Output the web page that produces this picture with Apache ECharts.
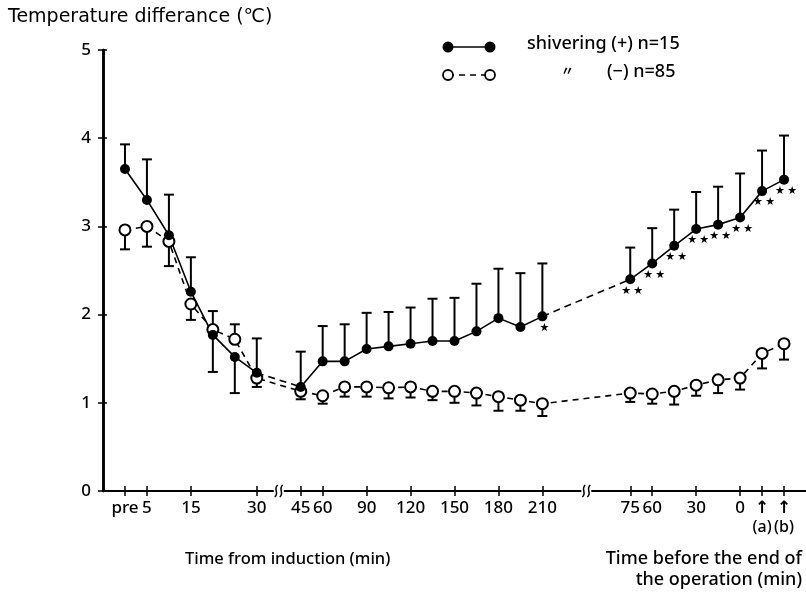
<!DOCTYPE html>
<html>
<head>
<meta charset="utf-8">
<script src="https://cdn.jsdelivr.net/npm/echarts@6/dist/echarts.min.js"></script>
<style>
  html, body { margin: 0; padding: 0; background: #fff; }
  #chart { width: 806px; height: 599px; }
</style>
</head>
<body>
<div id="chart"></div>
<script>
// x positions are "slots": one slot per measurement step, breaks at 7 and 21
const slots = [0, 1, 2, 3, 4, 5, 6, 8, 9, 10, 11, 12, 13, 14, 15, 16, 17, 18, 19, 23, 24, 25, 26, 27, 28, 29, 30];

// shivering (+) n=15 : mean and end of the SD bar
const shiverMean = [3.65, 3.30, 2.90, 2.26, 1.77, 1.52, 1.34, 1.18, 1.47, 1.47, 1.61, 1.64, 1.67, 1.70, 1.70, 1.81, 1.96, 1.86, 1.98, 2.40, 2.58, 2.78, 2.97, 3.02, 3.10, 3.40, 3.53];
const shiverBar = [3.93, 3.76, 3.36, 2.65, 1.35, 1.11, 1.73, 1.58, 1.87, 1.89, 2.02, 2.03, 2.08, 2.18, 2.19, 2.35, 2.52, 2.47, 2.58, 2.76, 2.98, 3.19, 3.39, 3.45, 3.60, 3.86, 4.03];
const shiverSig = ['', '', '', '', '', '', '', '', '', '', '', '', '', '', '', '', '', '', '*', '**', '**', '**', '**', '**', '**', '**', '**'];

// shivering (-) n=85
const noShiverMean = [2.96, 3.00, 2.83, 2.12, 1.83, 1.72, 1.28, 1.13, 1.08, 1.18, 1.18, 1.17, 1.18, 1.13, 1.13, 1.11, 1.07, 1.03, 0.99, 1.11, 1.10, 1.13, 1.20, 1.26, 1.28, 1.56, 1.67];
const noShiverBar = [2.74, 2.77, 2.55, 1.94, 2.04, 1.89, 1.18, 1.04, 0.99, 1.07, 1.07, 1.05, 1.06, 1.03, 1.00, 0.97, 0.91, 0.91, 0.85, 1.01, 0.99, 0.98, 1.08, 1.11, 1.15, 1.39, 1.49];

const tickSlots = [0, 1, 3, 6, 8, 9, 11, 13, 15, 17, 19, 23, 24, 26, 28, 29, 30];
const tickLabels = ['pre', '5', '15', '30', '45', '60', '90', '120', '150', '180', '210', '75', '60', '30', '0', '(a)', '(b)'];
const breakSlots = [7, 21];

const FONT = 'Noto Sans';

function pairs(ys) {
  return slots.map((s, i) => [s, ys[i]]);
}

// solid line with gaps at the breaks, dashed pieces across them
function solidWithGaps(ys) {
  const out = [];
  for (let i = 0; i < slots.length; i++) {
    if (i > 0 && slots[i] - slots[i - 1] > 1) out.push([slots[i - 1] + 1, null]);
    out.push([slots[i], ys[i]]);
  }
  return out;
}
function bridges(ys) {
  const out = [];
  for (let i = 1; i < slots.length; i++) {
    if (slots[i] - slots[i - 1] > 1) out.push([[slots[i - 1], ys[i - 1]], [slots[i], ys[i]]]);
  }
  return out;
}

function errBarItem(params, api) {
  const p0 = api.coord([api.value(0), api.value(1)]);
  const p1 = api.coord([api.value(0), api.value(2)]);
  return {
    type: 'group',
    children: [
      { type: 'line', shape: { x1: p0[0], y1: p0[1], x2: p1[0], y2: p1[1] }, style: { stroke: '#000', lineWidth: 2 } },
      { type: 'line', shape: { x1: p1[0] - 5, y1: p1[1], x2: p1[0] + 5, y2: p1[1] }, style: { stroke: '#000', lineWidth: 2 } }
    ]
  };
}

function breakItem(params, api) {
  const p = api.coord([api.value(0), 0]);
  const x = p[0], y = p[1];
  const kids = [{ type: 'rect', shape: { x: x - 5, y: y - 3, width: 10, height: 6 }, style: { fill: '#fff' } }];
  [-2.5, 2.5].forEach(dx => {
    kids.push({
      type: 'bezierCurve',
      shape: { x1: x + dx + 1.5, y1: y - 6, x2: x + dx - 1.5, y2: y + 6, cpx1: x + dx - 3.5, cpy1: y - 2, cpx2: x + dx + 3.5, cpy2: y + 2 },
      style: { stroke: '#000', lineWidth: 1.5, fill: null }
    });
  });
  return { type: 'group', children: kids };
}

const series = [];
series.push({
  type: 'line', data: solidWithGaps(shiverMean), connectNulls: false, symbol: 'none',
  lineStyle: { color: '#000', width: 1.6 }, z: 2, silent: true
});
bridges(shiverMean).forEach(b => series.push({
  type: 'line', data: b, symbol: 'none', lineStyle: { color: '#000', width: 1.6, type: [7, 5] }, z: 2, silent: true
}));
series.push({
  type: 'line', data: pairs(noShiverMean), symbol: 'none',
  lineStyle: { color: '#000', width: 1.6, type: [6, 5] }, z: 2, silent: true
});
series.push({
  type: 'custom', renderItem: errBarItem, z: 3, silent: true,
  data: slots.map((s, i) => [s, shiverMean[i], shiverBar[i]])
});
series.push({
  type: 'custom', renderItem: errBarItem, z: 3, silent: true,
  data: slots.map((s, i) => [s, noShiverMean[i], noShiverBar[i]])
});
series.push({
  type: 'scatter', data: pairs(noShiverMean), symbol: 'circle', symbolSize: 11, z: 4,
  itemStyle: { color: '#fff', borderColor: '#000', borderWidth: 2, opacity: 1 }
});
series.push({
  type: 'scatter', data: pairs(shiverMean), symbol: 'circle', symbolSize: 10, z: 5,
  itemStyle: { color: '#000', opacity: 1 },
  label: {
    show: true, position: 'bottom', distance: 1, offset: [2, 0],
    formatter: p => shiverSig[p.dataIndex] === '**' ? '★\u2009★' : (shiverSig[p.dataIndex] === '*' ? '★' : ''),
    color: '#000', fontSize: 11, fontFamily: 'DejaVu Sans'
  }
});
series.push({
  type: 'custom', renderItem: breakItem, clip: false, z: 6, silent: true,
  data: breakSlots.map(s => [s, 0])
});

const axisText = { color: '#000', fontFamily: FONT, fontSize: 17, fontWeight: 500 };
const axisBlack = { color: '#000', width: 2.5 };

const option = {
  animation: false,
  backgroundColor: '#fff',
  grid: { left: 103, right: 0, top: 50, bottom: 108 },
  xAxis: [{
    type: 'value', min: -1, max: 31,
    axisLine: { show: true, onZero: false, lineStyle: { color: '#000', width: 2 } },
    axisTick: { show: true, customValues: tickSlots, length: 5, lineStyle: { color: '#000', width: 1.5 } },
    axisLabel: {
      customValues: tickSlots, margin: 9, ...axisText,
      formatter: v => {
        const lab = tickLabels[tickSlots.indexOf(v)];
        return lab.charAt(0) === '(' ? '{arr|↑}\n{sm|' + lab + '}' : lab;
      },
      rich: {
        arr: { fontFamily: 'DejaVu Sans', fontWeight: 'bold', fontSize: 17, color: '#000', lineHeight: 17 },
        sm: { fontFamily: FONT, fontSize: 16, fontWeight: 500, color: '#000', lineHeight: 20 }
      }
    },
    splitLine: { show: false }
  }, {
    type: 'value', min: -1, max: 31, position: 'bottom',
    axisLine: { show: false, onZero: false },
    axisTick: { show: true, inside: true, customValues: tickSlots, length: 5, lineStyle: { color: '#000', width: 1.5 } },
    axisLabel: { show: false },
    splitLine: { show: false }
  }],
  yAxis: [{
    type: 'value', min: 0, max: 5, interval: 1, position: 'left',
    axisLine: { show: true, onZero: false, lineStyle: axisBlack },
    axisTick: { show: true, length: 5, lineStyle: { color: '#000', width: 1.5 } },
    axisLabel: { margin: 12, ...axisText },
    splitLine: { show: false }
  }, {
    type: 'value', min: 0, max: 5, interval: 1, position: 'left',
    axisLine: { show: true, onZero: false, lineStyle: axisBlack },
    axisTick: { show: true, inside: true, length: 4, lineStyle: { color: '#000', width: 1.5 } },
    axisLabel: { show: false },
    splitLine: { show: false }
  }],
  graphic: [
    { type: 'text', left: 8, top: 8, style: { text: 'Temperature differance (℃)', fill: '#000', font: '19px "DejaVu Sans"' } },
    { type: 'text', left: 185, top: 551, style: { text: 'Time from induction (min)', fill: '#000', font: '500 16.5px "Noto Sans"' } },
    { type: 'text', right: 4, top: 550, style: { text: 'Time before the end of', fill: '#000', font: '500 18px "Noto Sans"' } },
    { type: 'text', right: 4, top: 571, style: { text: 'the operation (min)', fill: '#000', font: '500 18px "Noto Sans"' } },
    // legend
    { type: 'line', shape: { x1: 448, y1: 47, x2: 490, y2: 47 }, style: { stroke: '#000', lineWidth: 1.6 } },
    { type: 'circle', shape: { cx: 448, cy: 47, r: 5.5 }, style: { fill: '#000' } },
    { type: 'circle', shape: { cx: 490, cy: 47, r: 5.5 }, style: { fill: '#000' } },
    { type: 'line', shape: { x1: 448, y1: 75, x2: 490, y2: 75 }, style: { stroke: '#000', lineWidth: 1.6, lineDash: [6, 5] } },
    { type: 'circle', shape: { cx: 448, cy: 75, r: 5 }, style: { fill: '#fff', stroke: '#000', lineWidth: 1.8 } },
    { type: 'circle', shape: { cx: 490, cy: 75, r: 5 }, style: { fill: '#fff', stroke: '#000', lineWidth: 1.8 } },
    { type: 'text', left: 527, top: 35, style: { text: 'shivering (+) n=15', fill: '#000', font: '500 18px "Noto Sans"' } },
    { type: 'text', left: 561, top: 64, style: { text: '〃', fill: '#000', font: 'bold 13px "Noto Sans CJK JP"' } },
    { type: 'text', left: 607, top: 63, style: { text: '(−) n=85', fill: '#000', font: '500 18px "Noto Sans"' } }
  ],
  series: series
};

const chart = echarts.init(document.getElementById('chart'));
chart.setOption(option);
</script>
</body>
</html>
